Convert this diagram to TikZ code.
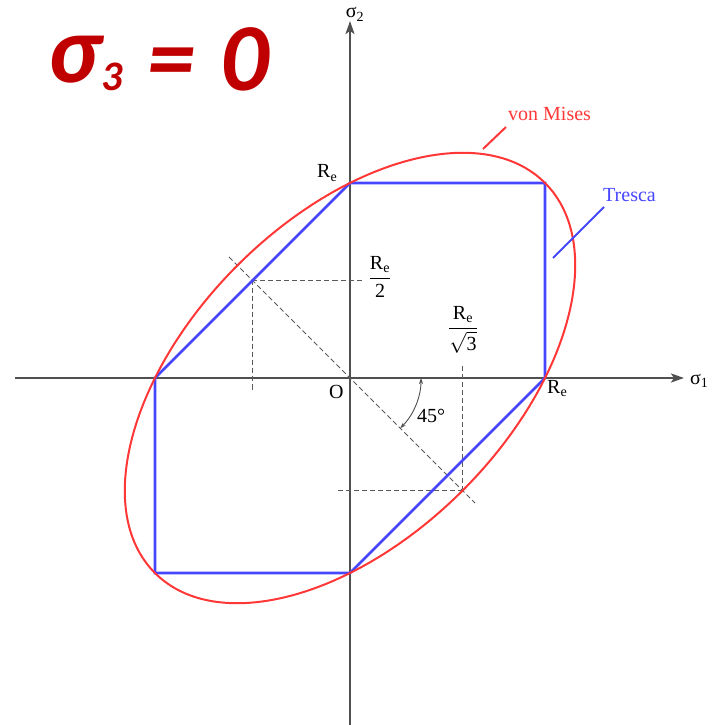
\documentclass[tikz,border=0pt]{standalone}
\usepackage{fontspec}
\setmainfont{Liberation Serif}
\newfontfamily\titlefont{Carlito}
\usepackage{amsmath}
\usetikzlibrary{arrows.meta, positioning}
\definecolor{axisgray}{RGB}{80,80,80}
\definecolor{guidegray}{RGB}{90,90,90}
\definecolor{misesred}{RGB}{255,55,55}
\definecolor{trescablue}{RGB}{70,70,255}
\definecolor{titlered}{RGB}{192,0,0}
\tikzset{
  axis/.style={line width=2.2pt, color=axisgray,
    -{Stealth[length=13pt, width=9pt, inset=3pt]}},
  guide/.style={line width=1pt, color=guidegray, dash pattern=on 5pt off 3pt},
  misesline/.style={line width=2pt, color=misesred},
  trescaline/.style={line width=2.6pt, color=trescablue},
  angarrow/.style={line width=0.9pt, color=axisgray,
    {Stealth[length=6pt, width=4pt]}-{Stealth[length=6pt, width=4pt]}},
  lbl/.style={inner sep=0pt, font=\fontsize{20}{24}\selectfont}
}
\newcommand{\Rsub}{R\textsubscript{e}}

\begin{document}
\begin{tikzpicture}[x=1pt, y=1pt]
  \useasboundingbox (-350,-347) rectangle (371,378);

  % Origin and axes
  \coordinate (O) at (0,0);
  \coordinate (xstart) at (-335,0);
  \coordinate (xend) at (334,0);
  \coordinate (ystart) at (0,-350);
  \coordinate (yend) at (0,357);
  \draw[axis] (xstart) -- (xend);
  \draw[axis] (ystart) -- (yend);

  % Characteristic points
  \coordinate (P1) at (-97.5,97.5);
  \coordinate (P2) at (112.6,-112.6);

  % Dashed guide lines
  \coordinate (d1) at (-121,121);
  \coordinate (d2) at (125,-125);
  \draw[guide] (d1) -- (d2);
  \coordinate (h1) at (13,97.5);
  \coordinate (v1) at (-97.5,-12);
  \draw[guide] (P1) -- (h1);
  \draw[guide] (P1) -- (v1);
  \coordinate (v2) at (112.6,14);
  \coordinate (h2) at (-15,-112.6);
  \draw[guide] (P2) -- (v2);
  \draw[guide] (P2) -- (h2);

  % Tresca hexagon
  \coordinate (t1) at (0,195);
  \coordinate (t2) at (195,195);
  \coordinate (t3) at (195,0);
  \coordinate (t4) at (0,-195);
  \coordinate (t5) at (-195,-195);
  \coordinate (t6) at (-195,0);
  \draw[trescaline, line join=miter] (t1) -- (t2) -- (t3) -- (t4) -- (t5) -- (t6) -- cycle;

  % von Mises ellipse
  \draw[misesline, rotate=45] (O) ellipse (275.8 and 159.2);

  % 45 degree angle
  \coordinate (a1) at (71,0);
  \draw[angarrow] (a1) arc (0:-45:71);
  \node[lbl, anchor=base west] (ang) at (67,-44) {45°};

  % Axis labels
  \node[lbl, anchor=base west] (sig1) at (340,-6) {σ\textsubscript{1}};
  \node[lbl, anchor=base] (sig2) at (5,360) {σ\textsubscript{2}};
  \node[lbl, anchor=base west] (orig) at (-21,-20) {O};
  \node[lbl, anchor=base west] (reTop) at (-33,200) {\Rsub};
  \node[lbl, anchor=base west] (reRight) at (197,-15) {\Rsub};

  % Fractions
  \node[lbl] (half) at (30,101) {$\dfrac{\mbox{\Rsub}}{\mbox{2}}$};
  \node[lbl] (third) at (113,48) {$\dfrac{\mbox{\Rsub}}{\sqrt{\mbox{3}}}$};

  % Criterion labels with leaders
  \node[lbl, anchor=base west, text=misesred] (vm) at (158,257) {von Mises};
  \coordinate (vmA) at (133,229);
  \coordinate (vmB) at (156,251);
  \draw[misesline] (vmA) -- (vmB);
  \node[lbl, anchor=base west, text=trescablue] (tr) at (253,176) {Tresca};
  \coordinate (trA) at (203,120);
  \coordinate (trB) at (254,171);
  \draw[trescaline, line width=2pt] (trA) -- (trB);

  % Title
  \node[inner sep=0pt, anchor=base west, text=titlered,
    font=\titlefont\bfseries\itshape\fontsize{96}{100}\selectfont]
    (title) at (-302,287)
    {\raisebox{8pt}{σ}\kern1pt{\fontsize{42}{46}\selectfont 3}\hspace{0.26em}=\hspace{0.26em}0};
\end{tikzpicture}
\end{document}
